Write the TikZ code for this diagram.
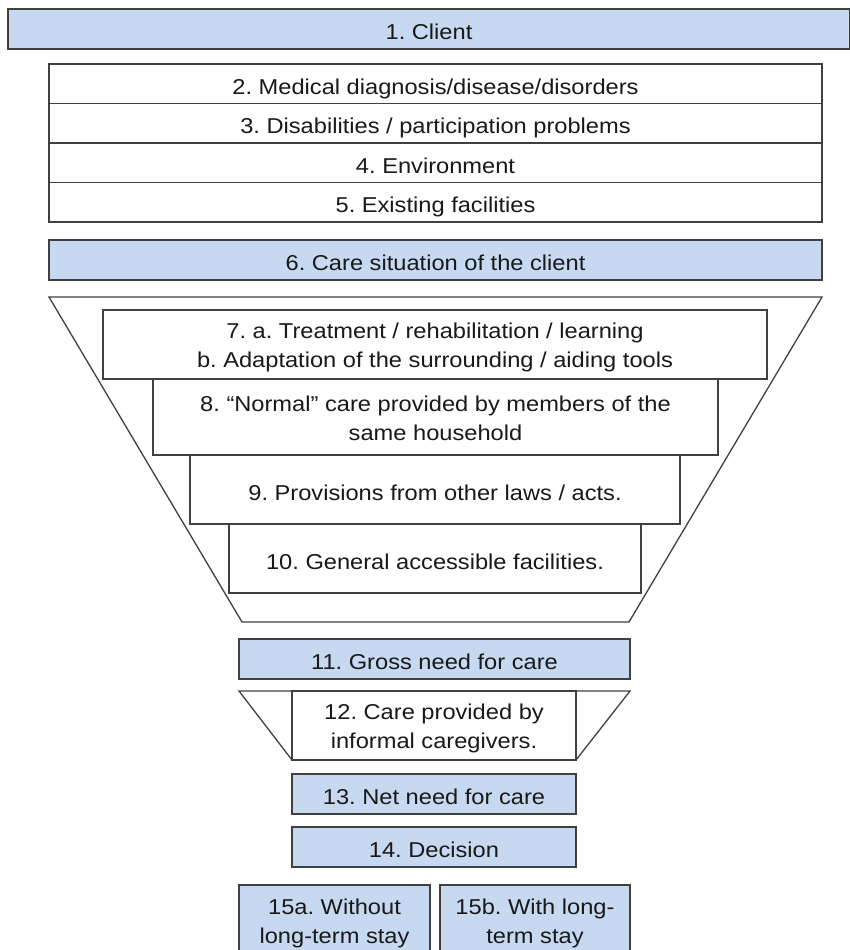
\documentclass[tikz,border=0pt]{standalone}
\usepackage{fontspec}
\setmainfont{Liberation Sans}[FakeStretch=1.1]
\definecolor{careblue}{RGB}{198,217,241}
\definecolor{edgegray}{RGB}{64,64,64}
\begin{document}
\frenchspacing
\begin{tikzpicture}[x=1pt,y=-1pt,
    every node/.style={font=\fontsize{21.5}{29}\selectfont, text=black!90,
        inner sep=0pt, outer sep=0pt, align=center, text height=21pt, text depth=0pt},
    level/.style={draw=edgegray, line width=1.3pt, fill=white},
    bluelevel/.style={level, fill=careblue},
    twoline/.style={text height=46pt}]
    \useasboundingbox (0,0) rectangle (850,950);
    % client and situation
        \node[bluelevel, minimum width=842, minimum height=40] (l1) at (429,29) {1. Client};
        \foreach \n/\y/\t in {2/83.75/{Medical diagnosis/disease/disorders},
                              3/123.25/{Disabilities / participation problems},
                              4/162.75/{Environment},
                              5/202.25/{Existing facilities}}{
            \node[level, minimum width=773, minimum height=39.5] (l\n) at (435.5,\y) {\n. \t};
        }
        \node[bluelevel, minimum width=773, minimum height=40] (l6) at (435.5,260) {6. Care situation of the client};
    % first funnel
        \draw[edgegray, line width=1.3pt] (49,297) -- (822,297) -- (629,622) -- (242,622) -- cycle;
        \node[level, twoline, minimum width=664, minimum height=69] (l7) at (435,344.5)
            {7. a. Treatment / rehabilitation / learning\\b. Adaptation of the surrounding / aiding tools};
        \node[level, twoline, minimum width=565, minimum height=76] (l8) at (435.5,417)
            {8. “Normal” care provided by members of the\\same household};
        \node[level, minimum width=490, minimum height=69] (l9) at (435,489.5) {9. Provisions from other laws / acts.};
        \node[level, minimum width=412, minimum height=69] (l10) at (435,558.5) {10. General accessible facilities.};
    % gross need and second funnel
        \node[bluelevel, minimum width=391, minimum height=40] (l11) at (434.5,659) {11. Gross need for care};
        \draw[edgegray, line width=1.3pt] (239,691) -- (630,691) -- (576,760) -- (292,760) -- cycle;
        \node[level, twoline, minimum width=284, minimum height=69] (l12) at (434,725.5)
            {12. Care provided by\\informal caregivers.};
    % net need and decision
        \node[bluelevel, minimum width=284, minimum height=40] (l13) at (434,794) {13. Net need for care};
        \node[bluelevel, minimum width=284, minimum height=40] (l14) at (434,847) {14. Decision};
        \node[bluelevel, twoline, minimum width=191, minimum height=70] (l15a) at (334.5,920) {15a. Without\\long-term stay};
        \node[bluelevel, twoline, minimum width=190, minimum height=70] (l15b) at (535,920) {15b. With long-\\term stay};
\end{tikzpicture}
\end{document}
